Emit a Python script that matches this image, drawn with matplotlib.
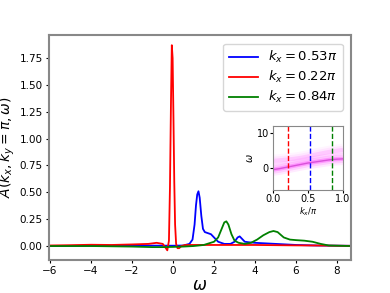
import matplotlib
matplotlib.use('Agg')  # non-GUI backend
import matplotlib.pyplot as plt

# spectral curves: (omega, A)
red_w = [-6.1, -5, -4, -3, -2, -1.2, -0.8, -0.5, -0.35, -0.28, -0.2, -0.15, -0.1,
         -0.06, -0.02, 0.02, 0.06, 0.1, 0.15, 0.22, 0.3, 0.4, 0.6, 1, 2, 3, 4, 5, 6, 7, 8, 8.7]
red_a = [0.005, 0.008, 0.012, 0.01, 0.015, 0.02, 0.03, 0.02, -0.02, -0.04, 0.05, 0.55, 1.35,
         1.87, 1.75, 1.2, 0.6, 0.2, 0.02, -0.02, -0.02, 0.0, 0.01, 0.01, 0.01, 0.01, 0.01, 0.008, 0.006, 0.005, 0.003, 0.002]

blue_w = [-6.1, -4, -2, -1, 0, 0.5, 0.8, 0.95, 1.05, 1.12, 1.18, 1.24, 1.3, 1.38, 1.46, 1.55,
          1.7, 1.85, 2.0, 2.2, 2.5, 2.8, 3.0, 3.15, 3.25, 3.35, 3.5, 3.7, 4.0, 4.5, 5, 6, 7, 8.7]
blue_a = [0.0, 0.003, 0.005, 0.004, 0.003, 0.005, 0.02, 0.06, 0.2, 0.38, 0.48, 0.51, 0.45, 0.28, 0.16, 0.13,
          0.12, 0.11, 0.08, 0.04, 0.02, 0.02, 0.04, 0.08, 0.09, 0.07, 0.04, 0.035, 0.03, 0.025, 0.02, 0.01, 0.005, 0.002]

green_w = [-6.1, -4, -2, -1, -0.5, 0, 0.5, 1, 1.5, 2.0, 2.2, 2.35, 2.5, 2.6, 2.7, 2.85, 3.0,
           3.2, 3.5, 3.8, 4.1, 4.4, 4.7, 4.9, 5.1, 5.4, 5.7, 6.0, 6.4, 6.8, 7.2, 7.6, 8.7]
green_a = [0.0, 0.0, -0.005, -0.01, -0.01, -0.008, -0.005, 0.0, 0.01, 0.04, 0.08, 0.15, 0.22, 0.23, 0.2, 0.11, 0.05,
           0.03, 0.02, 0.03, 0.06, 0.1, 0.13, 0.14, 0.13, 0.08, 0.06, 0.055, 0.05, 0.04, 0.02, 0.005, 0.0]

labels = [r'$k_x=0.53\pi$', r'$k_x=0.22\pi$', r'$k_x=0.84\pi$']
kx_cuts = [0.53, 0.22, 0.84]

# inset band centres: (kx/pi, omega)
band_k = [0.0, 0.1, 0.2, 0.3, 0.4, 0.5, 0.6, 0.7, 0.8, 0.9, 1.0]
band_low = [-0.5, -0.2, 0.2, 0.6, 1.0, 1.4, 1.7, 2.0, 2.3, 2.5, 2.6]
band_up = [2.0, 2.2, 2.4, 2.6, 2.9, 3.3, 3.8, 4.2, 4.6, 4.9, 5.2]

fig = plt.figure(figsize=(3.9, 2.93), dpi=100)
ax = fig.add_axes([49 / 390, 33 / 293, 302 / 390, 225 / 293])
ax.plot(blue_w, blue_a, color='blue', lw=1.3, label=labels[0])
ax.plot(red_w, red_a, color='red', lw=1.3, label=labels[1])
ax.plot(green_w, green_a, color='green', lw=1.3, label=labels[2])
ax.set_xlim(-6.05, 8.68)
ax.set_ylim(-0.13, 1.965)
ax.set_yticks([0, 0.25, 0.5, 0.75, 1.0, 1.25, 1.5, 1.75])
ax.tick_params(labelsize=7.5, length=2.5, pad=2)
for s in ax.spines.values():
    s.set_color('#888888')
    s.set_linewidth(1.5)
ax.set_xlabel(r'$\omega$', fontsize=12, labelpad=0)
ax.set_ylabel(r'$A(k_x, k_y=\pi, \omega)$', fontsize=10, labelpad=2)
ax.legend(loc='upper right', fontsize=9.5, handlelength=2.2, labelspacing=0.3,
          borderaxespad=0.5, bbox_to_anchor=(0.995, 0.99))

ins = fig.add_axes([273 / 390, 103 / 293, 70 / 390, 64 / 293])
for w, a in [(9, 0.08), (6, 0.12), (3, 0.25)]:
    ins.plot(band_k, band_low, color='magenta', lw=w, alpha=a, solid_capstyle='butt')
    ins.plot(band_k, band_up, color='magenta', lw=w, alpha=a * 0.5, solid_capstyle='butt')
ins.plot(band_k, band_low, color='#d040d0', lw=1.0, alpha=0.8)
for k, c in zip(kx_cuts, ['blue', 'red', 'green']):
    ins.axvline(k, color=c, ls='--', lw=1.0)
ins.set_xlim(0, 1)
ins.set_ylim(-6.4, 12.1)
ins.set_xticks([0, 0.5, 1.0])
ins.set_yticks([0, 10])
ins.tick_params(labelsize=7, length=2, pad=1)
ins.set_xlabel(r'$k_x/\pi$', fontsize=6, labelpad=1)
ins.set_ylabel(r'$\omega$', fontsize=7, labelpad=1)
for s in ins.spines.values():
    s.set_color('#888888')

fig.savefig('out.png', dpi=100)
